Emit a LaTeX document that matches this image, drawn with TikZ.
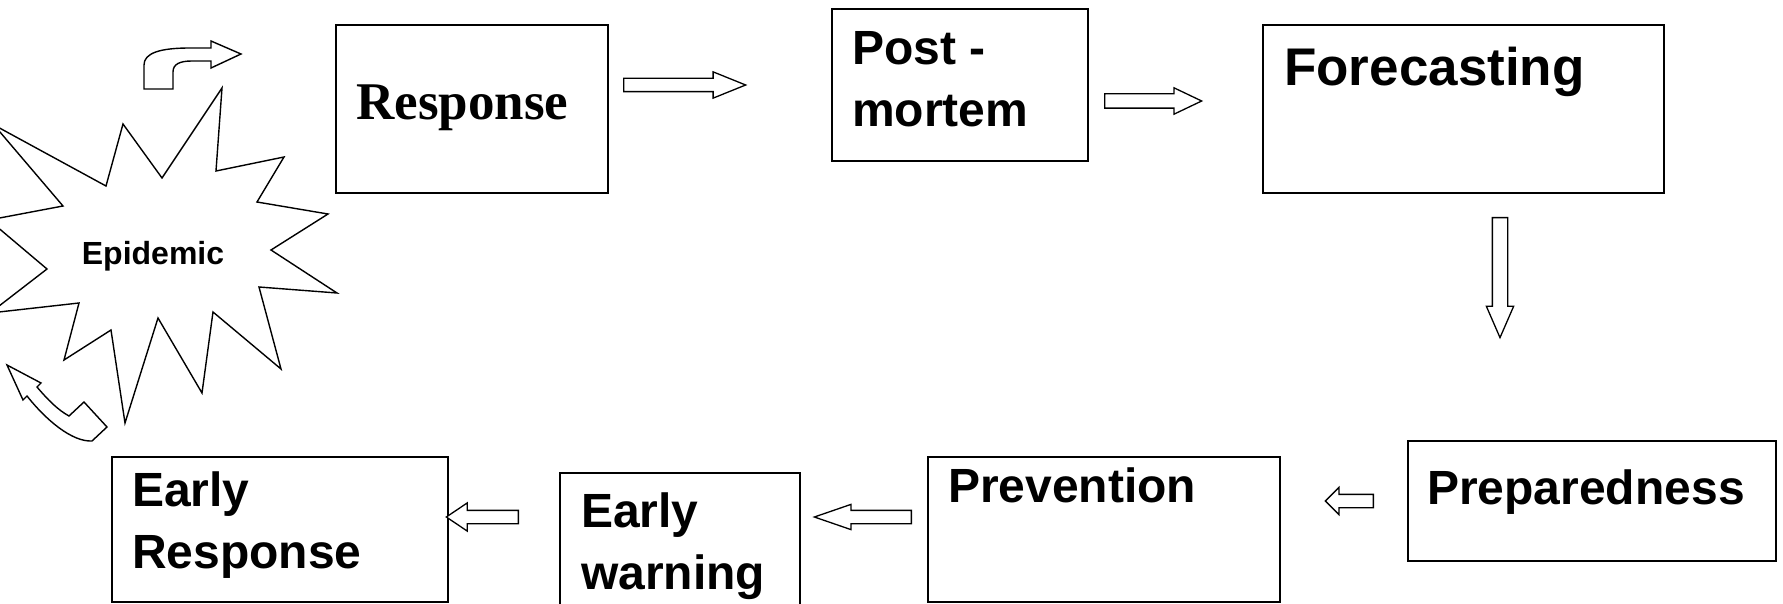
\documentclass[tikz,border=0pt]{standalone}
\usepackage{fontspec}
\setmainfont{Liberation Sans}
\newfontfamily\timesfont{Liberation Serif}
\usetikzlibrary{shapes.arrows}

\begin{document}
\begin{tikzpicture}[x=1pt,y=-1pt,
    main node/.style={draw,line width=2pt,inner sep=0pt},
    main text/.style={inner sep=0pt,anchor=north west,align=left,font=\bfseries\fontsize{48pt}{62pt}\selectfont},
    arrow node/.style={draw,line width=1.3pt,single arrow,inner xsep=0pt,fill=white,anchor=tail},
    outline/.style={draw,line width=1.4pt,fill=white,line join=miter}]
    \path[use as bounding box] (0,0) rectangle (1783,604);
    \clip (0,0) rectangle (1783,604);

    % boxes
    \node[main node,minimum width=272pt,minimum height=168pt] (response) at (472,109) {};
    \node[main node,minimum width=256pt,minimum height=152pt] (post) at (960,85) {};
    \node[main node,minimum width=401pt,minimum height=168pt] (forecast) at (1463.5,109) {};
    \node[main node,minimum width=368pt,minimum height=120pt] (prepared) at (1592,501) {};
    \node[main node,minimum width=352pt,minimum height=145pt] (prevent) at (1104,529.5) {};
    \node[main node,minimum width=240pt,minimum height=137pt] (warning) at (680,541.5) {};
    \node[main node,minimum width=336pt,minimum height=145pt] (early) at (280,529.5) {};

    % texts
    \node[inner sep=0pt,anchor=base west,font=\timesfont\bfseries\fontsize{53pt}{60pt}\selectfont] (response text) at (356,120) {Response};
    \node[main text] (post text) at (852,31) {Post -\\mortem};
    \node[main text,font=\bfseries\fontsize{53pt}{62pt}\selectfont] (forecast text) at (1284,47) {Forecasting};
    \node[main text] (prepared text) at (1427,470) {Preparedness};
    \node[main text] (prevent text) at (948,468) {Prevention};
    \node[main text] (warning text) at (581,493) {Early\\warning};
    \node[main text] (early text) at (132,472) {Early\\Response};

    % block arrows
    \node[arrow node,inner ysep=6pt,minimum height=122pt,minimum width=25pt,single arrow head extend=6.5pt,single arrow tip angle=44] (a1) at (623,85) {};
    \node[arrow node,inner ysep=6.5pt,minimum height=97pt,minimum width=25pt,single arrow head extend=6pt,single arrow tip angle=51] (a2) at (1104,101) {};
    \node[arrow node,rotate=-90,inner ysep=7pt,minimum height=120pt,minimum width=26pt,single arrow head extend=6pt,single arrow tip angle=47] (a3) at (1500,217) {};
    \node[arrow node,rotate=180,inner ysep=6pt,minimum height=48pt,minimum width=26pt,single arrow head extend=7pt,single arrow tip angle=90] (a4) at (1374,501) {};
    \node[arrow node,rotate=180,inner ysep=6pt,minimum height=97pt,minimum width=24pt,single arrow head extend=6pt,single arrow tip angle=38] (a5) at (912,517) {};
    \node[arrow node,rotate=180,inner ysep=6pt,minimum height=72pt,minimum width=27pt,single arrow head extend=7.5pt,single arrow tip angle=68] (a6) at (519,517) {};

    % epidemic burst
    \path[outline] (222,88) -- (216,171) -- (284,157) -- (257,202) -- (328,214) -- (271,250)
        -- (337,293) -- (259,287) -- (281,369) -- (213,312) -- (202,393) -- (158,318)
        -- (125,423) -- (111,330) -- (64,360) -- (79,303) -- (-10,313) -- (47,269)
        -- (-11,220) -- (63,206) -- (-6,125) -- (106,186) -- (123,124) -- (162,178) -- cycle;
    \node[inner sep=0pt,anchor=base,font=\bfseries\fontsize{32pt}{36pt}\selectfont] (epidemic) at (153,265) {Epidemic};

    % bent arrows
    \path[outline] (144,89) -- (173,89) -- (173,72) .. controls (173,64) and (180,61) .. (192,61)
        -- (211,61) -- (211,68) -- (241,54) -- (211,41) -- (211,48) -- (190,48)
        .. controls (160,48) and (144,53) .. (144,65) -- cycle;
    \path[outline] (7,365) -- (41,383) -- (37,387) .. controls (48,400) and (58,410) .. (69,416)
        -- (84,402) -- (107,427) -- (92,441) .. controls (72,442) and (46,420) .. (27,396)
        -- (23,400) -- cycle;
\end{tikzpicture}
\end{document}
